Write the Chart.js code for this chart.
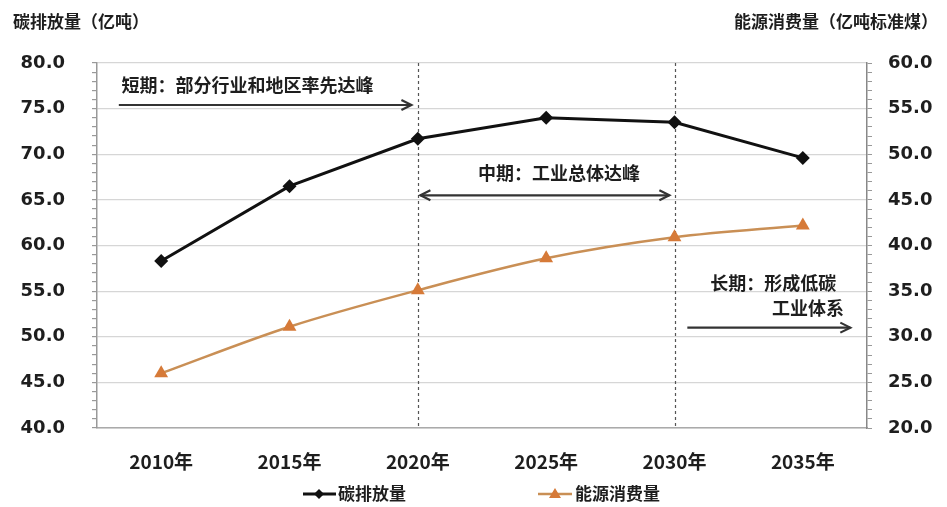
<!DOCTYPE html>
<html>
<head>
<meta charset="utf-8">
<script src="https://cdn.jsdelivr.net/npm/chart.js@4"></script>
<style>
  html, body { margin: 0; padding: 0; background: #fff; }
</style>
</head>
<body>
<canvas id="chart" width="947" height="507"></canvas>
<script>
// 年份
const years = ['2010年', '2015年', '2020年', '2025年', '2030年', '2035年'];
// 碳排放量（亿吨）
const emissions = [58.3, 66.5, 71.7, 74.0, 73.5, 69.6];
// 能源消费量（亿吨标准煤）
const energy = [26.0, 31.1, 35.1, 38.6, 40.9, 42.2];
// 坐标轴范围 [min, max, 标注间隔]
const leftAxis = [40, 80, 5];
const rightAxis = [20, 60, 5];

const CJK = '"Noto Sans CJK SC", "Noto Sans CJK TC", sans-serif';
const NUM = '"DejaVu Sans", Verdana, sans-serif';
const INK = '#1e1e1e';
const ORANGE_LINE = '#c98f55';
const ORANGE_PT = '#d67a38';

function drawArrow(ctx, x1, x2, y, both) {
  ctx.beginPath();
  ctx.moveTo(x1, y);
  ctx.lineTo(x2, y);
  ctx.stroke();
  const head = (x, dir) => {
    ctx.beginPath();
    ctx.moveTo(x - dir * 10, y - 5);
    ctx.lineTo(x, y);
    ctx.lineTo(x - dir * 10, y + 5);
    ctx.stroke();
  };
  head(x2, 1);
  if (both) head(x1, -1);
}

const overlay = {
  id: 'overlay',
  beforeDatasetsDraw(chart) {
    const ctx = chart.ctx;
    const { top, bottom } = chart.chartArea;
    const xs = chart.scales.x;
    const ys = chart.scales.y;
    const X = i => xs.getPixelForValue(i);
    const Y = v => ys.getPixelForValue(v);

    ctx.save();
    // 阶段分界虚线
    ctx.strokeStyle = '#555';
    ctx.lineWidth = 1.2;
    ctx.setLineDash([3, 3]);
    [2, 4].forEach(i => {
      const x = Math.round(X(i)) + 0.5;
      ctx.beginPath();
      ctx.moveTo(x, top);
      ctx.lineTo(x, bottom);
      ctx.stroke();
    });
    ctx.setLineDash([]);

    // 阶段箭头
    ctx.strokeStyle = '#333';
    ctx.lineWidth = 2.2;
    drawArrow(ctx, X(-0.33), X(1.95), Y(75.4), false);
    drawArrow(ctx, X(2.02), X(3.96), Y(65.5), true);
    drawArrow(ctx, X(4.1), X(5.37), Y(51.0), false);

    // 阶段说明
    ctx.fillStyle = INK;
    ctx.font = 'bold 18px ' + CJK;
    ctx.textBaseline = 'middle';
    ctx.textAlign = 'left';
    ctx.fillText('短期：部分行业和地区率先达峰', X(-0.31), Y(77.6));
    ctx.textAlign = 'center';
    ctx.fillText('中期：工业总体达峰', X(3.1), Y(67.9));
    ctx.textAlign = 'right';
    ctx.fillText('长期：形成低碳', X(5.26), Y(55.9));
    ctx.fillText('工业体系', X(5.32), Y(53.15));

    // 轴标题
    ctx.font = 'bold 17px ' + CJK;
    ctx.textAlign = 'left';
    ctx.fillText('碳排放量（亿吨）', 13, 22);
    ctx.textAlign = 'right';
    ctx.fillText('能源消费量（亿吨标准煤）', 938, 22);

    // 图例
    const ly = 494;
    ctx.lineWidth = 3;
    ctx.strokeStyle = '#111';
    ctx.beginPath();
    ctx.moveTo(303, ly);
    ctx.lineTo(336, ly);
    ctx.stroke();
    ctx.fillStyle = '#111';
    ctx.beginPath();
    ctx.moveTo(319, ly - 5);
    ctx.lineTo(324, ly);
    ctx.lineTo(319, ly + 5);
    ctx.lineTo(314, ly);
    ctx.closePath();
    ctx.fill();

    ctx.lineWidth = 2.5;
    ctx.strokeStyle = ORANGE_LINE;
    ctx.beginPath();
    ctx.moveTo(538, ly);
    ctx.lineTo(572, ly);
    ctx.stroke();
    ctx.fillStyle = ORANGE_PT;
    ctx.beginPath();
    ctx.moveTo(555, ly - 6);
    ctx.lineTo(561, ly + 4);
    ctx.lineTo(549, ly + 4);
    ctx.closePath();
    ctx.fill();

    ctx.fillStyle = INK;
    ctx.font = 'bold 17px ' + CJK;
    ctx.textAlign = 'left';
    ctx.fillText('碳排放量', 338, ly);
    ctx.fillText('能源消费量', 575, ly);
    ctx.restore();
  }
};

const minorGrid = step => ctx => (ctx.tick && ctx.tick.value % step === 0) ? '#d6d6d6' : 'rgba(0,0,0,0)';
const majorLabel = step => v => (v % step === 0) ? v.toFixed(1) : '';

new Chart(document.getElementById('chart'), {
  type: 'line',
  data: {
    labels: years,
    datasets: [
      {
        label: '碳排放量',
        data: emissions,
        yAxisID: 'y',
        borderColor: '#111',
        backgroundColor: '#111',
        borderWidth: 3,
        pointStyle: 'rectRot',
        pointRadius: 7,
        pointBackgroundColor: '#111',
        pointBorderWidth: 0,
        tension: 0
      },
      {
        label: '能源消费量',
        data: energy,
        yAxisID: 'y1',
        borderColor: ORANGE_LINE,
        backgroundColor: ORANGE_PT,
        borderWidth: 2.5,
        pointStyle: 'triangle',
        pointRadius: 8,
        pointBackgroundColor: ORANGE_PT,
        pointBorderWidth: 0,
        cubicInterpolationMode: 'monotone',
        tension: 0.2
      }
    ]
  },
  options: {
    responsive: false,
    animation: false,
    devicePixelRatio: 1,
    layout: { padding: { top: 63, left: 0, right: 0, bottom: 0 } },
    plugins: {
      legend: { display: false },
      tooltip: { enabled: false }
    },
    scales: {
      x: {
        offset: true,
        grid: { display: false, drawTicks: false },
        border: { display: true, color: '#aaa', width: 1.5 },
        ticks: {
          color: INK,
          font: { family: CJK, size: 19, weight: 'bold' },
          padding: 22,
          maxRotation: 0
        },
        afterFit(scale) { scale.height = 79; }
      },
      y: {
        position: 'left',
        min: leftAxis[0],
        max: leftAxis[1],
        grid: {
          color: minorGrid(leftAxis[2]),
          lineWidth: 1.2,
          tickColor: '#999',
          tickLength: 5
        },
        border: { color: '#999', width: 1.5 },
        ticks: {
          stepSize: 1,
          autoSkip: false,
          color: INK,
          font: { family: NUM, size: 18, weight: 'bold' },
          padding: 27,
          callback: majorLabel(leftAxis[2])
        },
        afterFit(scale) { scale.width = 97; }
      },
      y1: {
        position: 'right',
        min: rightAxis[0],
        max: rightAxis[1],
        grid: {
          drawOnChartArea: false,
          tickColor: '#999',
          tickLength: 5
        },
        border: { color: '#888', width: 1.5 },
        ticks: {
          stepSize: 1,
          autoSkip: false,
          color: INK,
          font: { family: NUM, size: 18, weight: 'bold' },
          padding: 16,
          callback: majorLabel(rightAxis[2])
        },
        afterFit(scale) { scale.width = 80; }
      }
    }
  },
  plugins: [overlay]
});
</script>
</body>
</html>
